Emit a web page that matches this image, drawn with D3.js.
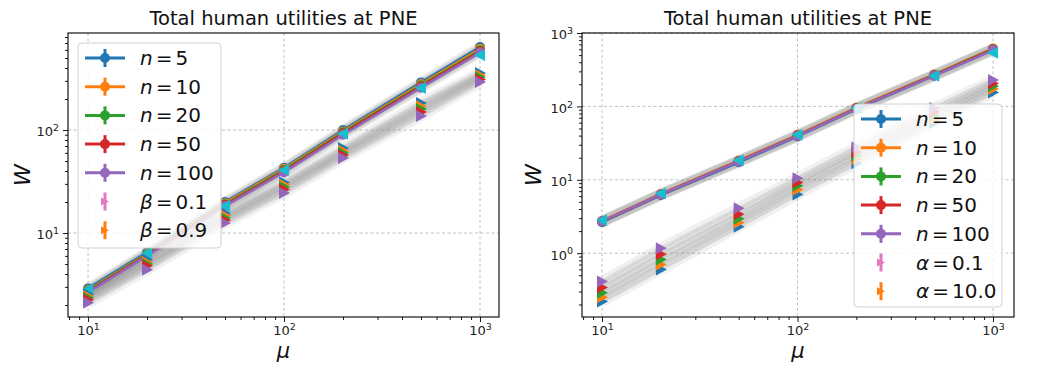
<!DOCTYPE html>
<html>
<head>
<meta charset="utf-8">
<script src="https://cdn.jsdelivr.net/npm/d3@7"></script>
<style>
  body { margin: 0; background: #fff; }
  svg { font-family: "DejaVu Sans", sans-serif; }
</style>
</head>
<body>
<div id="chart"></div>
<script>
// x values (mu) and the n values of the series
const mu = [10, 20, 50, 100, 200, 500, 1000];
const nValues = [5, 10, 20, 50, 100];
const seriesColors = ['#1f77b4', '#ff7f0e', '#2ca02c', '#d62728', '#9467bd'];

// left panel, beta = 0.1 (upper group) and beta = 0.9 (lower group)
const leftHigh = [
    [2.9, 6.5, 20.0, 43, 100, 290, 640],
    [2.8, 6.3, 19.5, 42, 97, 280, 615],
    [2.75, 6.2, 19.0, 41, 95, 272, 595],
    [2.7, 6.1, 18.7, 40, 93, 265, 580],
    [2.65, 6.0, 18.3, 39, 90, 258, 565]
];
const leftLow = [
    [2.55, 5.5, 15.6, 31, 67, 183, 357],
    [2.45, 5.2, 14.8, 29.5, 63, 170, 340],
    [2.35, 5.0, 14.0, 28, 60, 160, 325],
    [2.25, 4.8, 13.3, 26.5, 57, 150, 310],
    [2.1, 4.4, 12.5, 24.5, 53.5, 137, 293]
];
const leftCyan = [2.85, 6.4, 18.3, 41, 92, 256, 533];

// right panel, alpha = 0.1 (upper group) and alpha = 10.0 (lower group)
const rightHigh = [
    [2.65, 6.2, 17.3, 39, 92, 262, 590],
    [2.75, 6.4, 18.3, 41, 96, 272, 615],
    [2.7, 6.3, 18.0, 40, 94, 268, 605],
    [2.7, 6.3, 17.9, 40, 94, 266, 600],
    [2.72, 6.3, 17.8, 39.5, 93, 262, 585]
];
const rightLow = [
    [0.22, 0.6, 2.3, 6.3, 16.8, 60, 155],
    [0.25, 0.7, 2.6, 7.3, 19, 67, 172],
    [0.29, 0.82, 2.95, 8.3, 21.5, 75, 188],
    [0.34, 0.97, 3.4, 9.2, 24, 84, 205],
    [0.41, 1.17, 4.1, 10.5, 27.7, 95, 228]
];
const rightCyan = [2.8, 6.5, 18.5, 41, 95, 262, 540];

const leftYTicks = [10, 100];
const rightYTicks = [1, 10, 100, 1000];
const xTicks = [10, 100, 1000];

const width = 1040, height = 373;
const svg = d3.select('#chart').append('svg')
    .attr('width', width)
    .attr('height', height);

function supLabel(sel, v) {
    const e = Math.round(Math.log10(v));
    sel.text(null);
    sel.append('tspan').text('10');
    sel.append('tspan').attr('dy', '-0.55em').attr('font-size', '9.5px').text(e);
}

function minorTicks(domain) {
    const out = [];
    for (let p = -2; p <= 4; p++) {
        for (let k = 2; k <= 9; k++) {
            const v = k * Math.pow(10, p);
            if (v >= domain[0] && v <= domain[1]) out.push(v);
        }
    }
    return out;
}

function triangle(dir) {
    // dir: 'right' or 'left'
    return dir === 'right' ? 'M-5,-6L6,0L-5,6Z' : 'M5,-6L-6,0L5,6Z';
}

function drawPanel(cfg) {
    const x = d3.scaleLog().domain(cfg.xDomain).range([cfg.left, cfg.right]);
    const y = d3.scaleLog().domain(cfg.yDomain).range([cfg.bottom, cfg.top]);
    const g = svg.append('g');

    // grid
    g.selectAll('.gx').data(xTicks).enter().append('line')
        .attr('x1', d => x(d)).attr('x2', d => x(d))
        .attr('y1', cfg.top).attr('y2', cfg.bottom)
        .attr('stroke', '#b0b0b0').attr('stroke-width', 0.8)
        .attr('stroke-dasharray', '3,2.5');
    g.selectAll('.gy').data(cfg.yTicks).enter().append('line')
        .attr('x1', cfg.left).attr('x2', cfg.right)
        .attr('y1', d => y(d)).attr('y2', d => y(d))
        .attr('stroke', '#b0b0b0').attr('stroke-width', 0.8)
        .attr('stroke-dasharray', '3,2.5');

    const line = d3.line().x((d, i) => x(mu[i])).y(d => y(d));
    const plot = g.append('g');

    // grey bands from individual runs
    [cfg.high, cfg.low].forEach(group => {
        group.forEach(vals => {
            plot.append('path').attr('d', line(vals))
                .attr('fill', 'none').attr('stroke', '#8c8c8c')
                .attr('stroke-width', 11).attr('stroke-opacity', 0.13)
                .attr('stroke-linejoin', 'round');
            plot.append('path').attr('d', line(vals))
                .attr('fill', 'none').attr('stroke', '#9a9a9a')
                .attr('stroke-width', 4).attr('stroke-opacity', 0.18);
        });
    });

    // upper group: coloured lines + circles
    cfg.high.forEach((vals, s) => {
        plot.append('path').attr('d', line(vals))
            .attr('fill', 'none').attr('stroke', seriesColors[s])
            .attr('stroke-width', 2.5);
    });
    cfg.high.forEach((vals, s) => {
        plot.selectAll(null).data(vals).enter().append('circle')
            .attr('cx', (d, i) => x(mu[i])).attr('cy', d => y(d))
            .attr('r', 5).attr('fill', seriesColors[s]);
    });
    plot.selectAll(null).data(cfg.cyan).enter().append('path')
        .attr('d', triangle('left'))
        .attr('transform', (d, i) => `translate(${x(mu[i])},${y(d)})`)
        .attr('fill', '#17becf');

    // lower group: right-pointing triangles
    cfg.low.forEach((vals, s) => {
        plot.selectAll(null).data(vals).enter().append('path')
            .attr('d', triangle('right'))
            .attr('transform', (d, i) => `translate(${x(mu[i])},${y(d)})`)
            .attr('fill', seriesColors[s]);
    });

    // axes
    const xAxis = g.append('g').attr('transform', `translate(0,${cfg.bottom})`)
        .call(d3.axisBottom(x).tickValues(xTicks).tickSize(5).tickPadding(4));
    g.append('g').attr('transform', `translate(0,${cfg.bottom})`)
        .call(d3.axisBottom(x).tickValues(minorTicks(cfg.xDomain)).tickSize(3).tickFormat(''));
    const yAxis = g.append('g').attr('transform', `translate(${cfg.left},0)`)
        .call(d3.axisLeft(y).tickValues(cfg.yTicks).tickSize(5).tickPadding(4));
    g.append('g').attr('transform', `translate(${cfg.left},0)`)
        .call(d3.axisLeft(y).tickValues(minorTicks(cfg.yDomain)).tickSize(3).tickFormat(''));
    g.selectAll('.domain').remove();
    g.selectAll('.tick line').attr('stroke', '#000').attr('stroke-width', 0.9);
    xAxis.selectAll('.tick text').attr('font-size', '13px')
        .attr('font-family', '"DejaVu Sans", sans-serif').attr('fill', '#222')
        .each(function(d) { supLabel(d3.select(this), d); });
    yAxis.selectAll('.tick text').attr('font-size', '13px')
        .attr('font-family', '"DejaVu Sans", sans-serif').attr('fill', '#222')
        .attr('dy', '0.45em')
        .each(function(d) { supLabel(d3.select(this), d); });

    // frame
    g.append('rect')
        .attr('x', cfg.left).attr('y', cfg.top)
        .attr('width', cfg.right - cfg.left).attr('height', cfg.bottom - cfg.top)
        .attr('fill', 'none').attr('stroke', '#000').attr('stroke-width', 1.1);

    // labels
    const cx = (cfg.left + cfg.right) / 2;
    g.append('text').attr('x', cx).attr('y', 25)
        .attr('text-anchor', 'middle').attr('font-size', '19.5px').attr('fill', '#111')
        .text('Total human utilities at PNE');
    g.append('text').attr('x', cx).attr('y', 358)
        .attr('text-anchor', 'middle').attr('font-size', '21px')
        .attr('font-style', 'italic').attr('fill', '#111')
        .text('μ');
    g.append('text')
        .attr('transform', `translate(${cfg.wLabelX},${(cfg.top + cfg.bottom) / 2}) rotate(-90)`)
        .attr('text-anchor', 'middle').attr('font-size', '22px')
        .attr('font-style', 'italic').attr('fill', '#111')
        .text('W');

    // legend
    const lg = g.append('g');
    lg.append('rect')
        .attr('x', cfg.legend.x).attr('y', cfg.legend.y)
        .attr('width', cfg.legend.w).attr('height', cfg.legend.h)
        .attr('rx', 4).attr('fill', '#fff').attr('fill-opacity', 0.8)
        .attr('stroke', '#d0d0d0').attr('stroke-width', 1);
    const rowH = 28.7;
    nValues.forEach((n, i) => {
        const ry = cfg.legend.y + 15 + i * rowH;
        const hx = cfg.legend.x + 7;
        lg.append('line').attr('x1', hx).attr('x2', hx + 40)
            .attr('y1', ry).attr('y2', ry)
            .attr('stroke', seriesColors[i]).attr('stroke-width', 3);
        lg.append('line').attr('x1', hx + 20).attr('x2', hx + 20)
            .attr('y1', ry - 9).attr('y2', ry + 9)
            .attr('stroke', seriesColors[i]).attr('stroke-width', 3);
        lg.append('circle').attr('cx', hx + 20).attr('cy', ry).attr('r', 5)
            .attr('fill', seriesColors[i]);
        const t = lg.append('text').attr('x', hx + 55).attr('y', ry + 7)
            .attr('font-size', '20px').attr('fill', '#111');
        t.append('tspan').attr('font-style', 'italic').text('n');
        t.append('tspan').attr('dx', 3).text('=');
        t.append('tspan').attr('dx', 3).text(n);
    });
    cfg.params.forEach((p, j) => {
        const ry = cfg.legend.y + 15 + (5 + j) * rowH;
        const hx = cfg.legend.x + 7;
        lg.append('line').attr('x1', hx + 20).attr('x2', hx + 20)
            .attr('y1', ry - 9).attr('y2', ry + 9)
            .attr('stroke', p.color).attr('stroke-width', 3);
        lg.append('path').attr('d', 'M-4,-4L4,0L-4,4Z')
            .attr('transform', `translate(${hx + 20},${ry})`)
            .attr('fill', p.color);
        const t = lg.append('text').attr('x', hx + 55).attr('y', ry + 7)
            .attr('font-size', '20px').attr('fill', '#111');
        t.append('tspan').attr('font-style', 'italic').text(p.sym);
        t.append('tspan').attr('dx', 3).text('=');
        t.append('tspan').attr('dx', 3).text(p.value);
    });
}

drawPanel({
    left: 68, right: 499, top: 33, bottom: 317,
    xDomain: [7.9, 1250], yDomain: [1.53, 875],
    yTicks: leftYTicks,
    high: leftHigh, low: leftLow, cyan: leftCyan,
    wLabelX: 30,
    legend: { x: 78, y: 43, w: 143, h: 205 },
    params: [{ sym: 'β', value: '0.1', color: '#e377c2' }, { sym: 'β', value: '0.9', color: '#ff7f0e' }]
});

drawPanel({
    left: 582, right: 1014, top: 33, bottom: 317,
    xDomain: [7.9, 1280], yDomain: [0.135, 1000],
    yTicks: rightYTicks,
    high: rightHigh, low: rightLow, cyan: rightCyan,
    wLabelX: 541,
    legend: { x: 854, y: 104, w: 148, h: 203 },
    params: [{ sym: 'α', value: '0.1', color: '#e377c2' }, { sym: 'α', value: '10.0', color: '#ff7f0e' }]
});
</script>
</body>
</html>
